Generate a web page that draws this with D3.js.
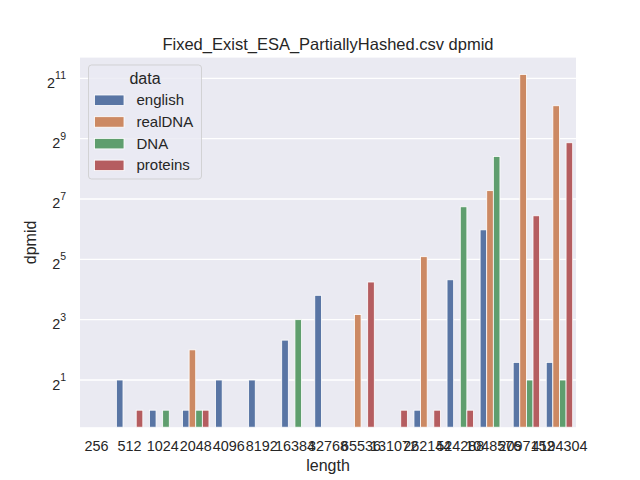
<!DOCTYPE html>
<html><head><meta charset="utf-8">
<script src="https://cdn.jsdelivr.net/npm/d3@7"></script>
<style>body{margin:0;background:#fff}svg{display:block}text{font-family:Arial,"Liberation Sans",sans-serif;fill:#262626}</style>
</head><body>
<svg id="c" width="640" height="480"></svg>
<script>
const categories = ["256","512","1024","2048","4096","8192","16384","32768","65536","131072","262144","524288","1048576","2097152","4194304"];
const hues = ["english","realDNA","DNA","proteins"];
const english  = [0,2,1,1,2,2,5,14,0,0,1,20,63,3,3];
const realDNA  = [0,0,0,4,0,0,0,0,9,0,34,0,155,2240,1090];
const DNA      = [0,0,1,1,0,0,8,0,0,0,0,107,340,2,2];
const proteins = [0,1,0,1,0,0,0,0,19,1,1,1,0,87,466];
const yTickExps = [1,3,5,7,9,11];
const colors = ["#5975A4","#CC8963","#5F9E6E","#B55D60"];
const series = [english, realDNA, DNA, proteins];

const L=80,R=576,T=57.6,B=427.2;
const svg = d3.select("#c");
svg.append("rect").attr("x",L).attr("y",T).attr("width",R-L).attr("height",B-T).attr("fill","#EAEAF2");

const x0 = d3.scaleBand().domain(categories).range([L,R]).padding(0);
const x1 = d3.scaleBand().domain(hues).range([0, x0.bandwidth()*0.8]);
const y = d3.scaleLog().base(2).domain([Math.pow(2,-0.564), Math.pow(2,11.686)]).range([B,T]);

// grid
svg.append("g").selectAll("line").data(yTickExps).join("line")
  .attr("x1",L).attr("x2",R)
  .attr("y1",d=>y(Math.pow(2,d))).attr("y2",d=>y(Math.pow(2,d)))
  .attr("stroke","#fff").attr("stroke-width",1.3);

// bars
const rows = [];
series.forEach((s,hi)=>s.forEach((v,ci)=>{ if(v>0) rows.push({c:categories[ci],h:hues[hi],v,col:colors[hi]}); }));
svg.append("g").selectAll("rect").data(rows).join("rect")
  .attr("x",d=>x0(d.c)+x0.bandwidth()*0.1+x1(d.h))
  .attr("width",x1.bandwidth())
  .attr("y",d=>y(d.v))
  .attr("height",d=>B-y(d.v))
  .attr("fill",d=>d.col)
  .attr("stroke","#fff").attr("stroke-width",0.8);

// x ticks
svg.append("g").selectAll("text").data(categories).join("text")
  .attr("x",d=>x0(d)+x0.bandwidth()/2).attr("y",451)
  .attr("text-anchor","middle").style("font-size","14.4px").text(d=>d);

// y ticks
const yt = svg.append("g").selectAll("text").data(yTickExps).join("text")
  .attr("x",66).attr("y",d=>y(Math.pow(2,d))+9.5).attr("text-anchor","end");
yt.append("tspan").style("font-size","14.4px").text("2");
yt.append("tspan").style("font-size","10.5px").attr("dy",-8.5).text(d=>d);

// labels
svg.append("text").attr("x",(L+R)/2).attr("y",50).attr("text-anchor","middle").style("font-size","16.5px").text("Fixed_Exist_ESA_PartiallyHashed.csv dpmid");
svg.append("text").attr("x",(L+R)/2).attr("y",471).attr("text-anchor","middle").style("font-size","16px").text("length");
svg.append("text").attr("transform",`translate(36,${(T+B)/2}) rotate(-90)`).attr("text-anchor","middle").style("font-size","16px").text("dpmid");

// legend
const lg = svg.append("g");
lg.append("rect").attr("x",88.5).attr("y",65).attr("width",113).attr("height",114).attr("rx",3)
  .attr("fill","rgba(234,234,242,0.8)").attr("stroke","rgba(204,204,204,0.8)").attr("stroke-width",1);
lg.append("text").attr("x",145).attr("y",83.5).attr("text-anchor","middle").style("font-size","16px").text("data");
const items = lg.selectAll("g.it").data(hues).join("g").attr("class","it")
  .attr("transform",(d,i)=>`translate(0,${100+i*21.7})`);
items.append("rect").attr("x",94.5).attr("y",-5).attr("width",29.5).attr("height",10.5)
  .attr("fill",(d,i)=>colors[i]).attr("stroke","#fff").attr("stroke-width",0.8);
items.append("text").attr("x",136.5).attr("y",5.3).style("font-size","15px").text(d=>d);
</script>
</body></html>
